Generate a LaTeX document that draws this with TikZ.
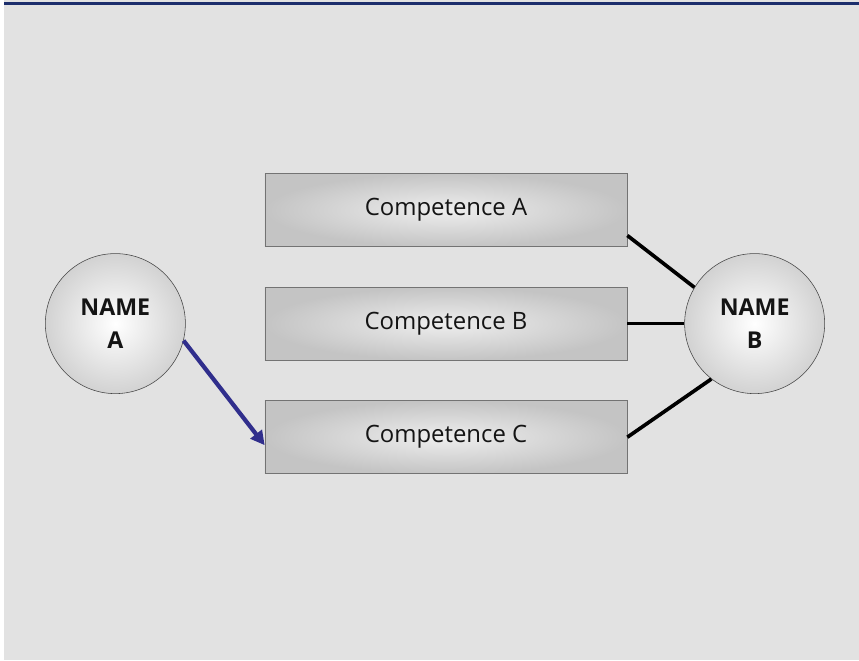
\documentclass[tikz,border=0pt]{standalone}
\usepackage{fontspec}
\setmainfont{Open Sans}
\usetikzlibrary{positioning,arrows.meta}
\definecolor{paper}{RGB}{226,226,226}
\definecolor{topbar}{RGB}{28,46,108}
\definecolor{boxin}{RGB}{238,238,238}
\definecolor{boxout}{RGB}{196,196,196}
\definecolor{boxline}{RGB}{115,115,115}
\definecolor{ringout}{RGB}{210,210,210}
\definecolor{ringline}{RGB}{70,70,70}
\definecolor{txt}{RGB}{20,20,20}
\definecolor{arrowblue}{RGB}{48,46,140}

\begin{document}
\begin{tikzpicture}[x=0.025cm,y=-0.025cm,node distance=1cm]
        \tikzstyle{compbox}=[rectangle,draw=boxline,inner color=boxin,outer color=boxout,
                          minimum width=9.05cm,minimum height=1.825cm,
                          font=\fontsize{17}{20}\selectfont,text=txt]
        \tikzstyle{person}=[circle,draw=ringline,inner color=white,outer color=ringout,
                          minimum size=3.5cm,align=center,inner sep=0pt,
                          font=\bfseries\fontsize{16.5}{23.5}\selectfont,text=txt]
        \tikzstyle{link}=[line width=2.6pt,black]

        % backdrop
        \useasboundingbox (0,0) rectangle (859,660);
        \fill[paper] (0,0) rectangle (859,660);
        \fill[white] (0,0) rectangle (4,660);
        \fill[topbar] (4,1.5) rectangle (859,4.5);

        \node[compbox]  (ca) at (446,210)        {Competence A};
        \node[compbox]  (cb) [below=of ca]       {Competence B};
        \node[compbox]  (cc) [below=of cb]       {Competence C};
        \node[person]   (na) [left=1.975cm of cb]  {NAME\\A};
        \node[person]   (nb) [right=1.425cm of cb] {NAME\\B};

        \draw[line width=3pt,arrowblue,-{Triangle[length=10pt,width=10pt]}]
              (na.-14) -- ([yshift=-0.2cm]cc.west);
        \draw[link] (ca.-8) -- (nb.149);
        \draw[link] (cb.east) -- (nb);
        \draw[link] (cc.east) -- (nb.232);
\end{tikzpicture}
\end{document}
